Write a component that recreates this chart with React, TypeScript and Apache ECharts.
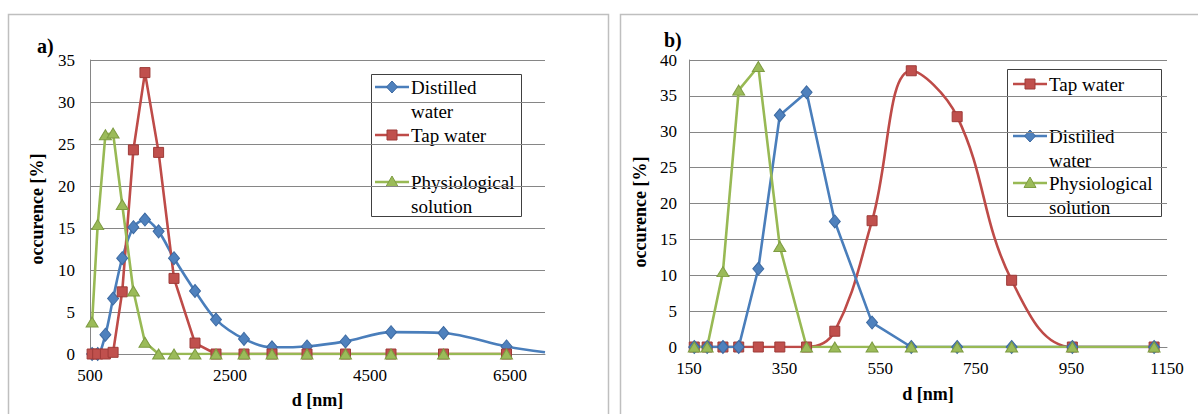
import React, { useEffect, useRef } from "react";
import * as echarts from "echarts";

const FONT = "'Liberation Serif', 'Times New Roman', Tinos, 'DejaVu Serif', serif";

// Panel a): particle diameter d (nm) and occurrence (%)
const aDiameters = [530, 610, 720, 830, 960, 1120, 1285, 1480, 1700, 2000, 2300, 2700, 3100, 3600, 4150, 4800, 5550, 6450];
const aDistilled = [0, 0, 2.3, 6.6, 11.4, 15.1, 16.0, 14.6, 11.4, 7.5, 4.1, 1.8, 0.8, 0.9, 1.5, 2.6, 2.5, 0.9];
const aDistilledEnd = [7000, 0.2];
const aTap = [0, 0, 0, 0.2, 7.4, 24.3, 33.5, 24.0, 9.0, 1.3, 0, 0, 0, 0, 0, 0, 0, 0];
const aPhysio = [3.8, 15.4, 26.1, 26.3, 17.8, 7.5, 1.4, 0, 0, 0, 0, 0, 0, 0, 0, 0, 0, 0];

// Panel b)
const bDiameters = [161, 188, 221, 254, 295, 340, 396, 455, 533, 615, 711, 825, 952, 1123];
const bTap = [0, 0, 0, 0, 0, 0, 0, 2.2, 17.6, 38.5, 32.1, 9.3, 0, 0];
const bDistilled = [0, 0, 0, 0, 10.9, 32.3, 35.5, 17.5, 3.4, 0, 0, 0, 0, 0];
const bPhysio = [0, 0, 10.5, 35.8, 39.1, 14.0, 0, 0, 0, 0, 0, 0, 0, 0];

const NAME_DISTILLED = "Distilled\nwater";
const NAME_TAP = "Tap water";
const NAME_PHYSIO = "Physiological\nsolution";

const BLUE = { line: "#4A7EBB", fill: "#4F81BD", border: "#3D6AA2" };
const RED = { line: "#BE4B48", fill: "#C0504D", border: "#9E3B38" };
const GREEN = { line: "#98B954", fill: "#9BBB59", border: "#7E9C42" };

const zip = (xs: number[], ys: number[]) => xs.map((x, i) => [x, ys[i]]);

const tickLabel = {
  color: "#000",
  fontSize: 17,
  fontFamily: FONT,
  formatter: (v: number) => String(v),
};
const gridLine = { lineStyle: { color: "#868686", width: 1 } };
const axisLine = { lineStyle: { color: "#868686", width: 1 } };
const axisName = { fontFamily: FONT, fontSize: 18, fontWeight: "bold", color: "#000" };

type Marker = "diamond" | "rect" | "triangle";

function markerSeries(
  name: string,
  data: any[],
  xAxisIndex: number,
  style: { line: string; fill: string; border: string },
  marker: Marker,
  smooth: boolean | number
) {
  const size = marker === "diamond" ? [11, 13] : marker === "triangle" ? [12, 10] : 10;
  return {
    type: "line",
    name,
    xAxisIndex,
    yAxisIndex: xAxisIndex,
    data,
    smooth,
    symbol: marker,
    symbolSize: size,
    showAllSymbol: true,
    lineStyle: { color: style.line, width: 2.6 },
    itemStyle: { color: style.fill, borderColor: style.border, borderWidth: 1 },
    emphasis: { disabled: true },
  };
}

function legendEntry(
  lineX0: number,
  y: number,
  textX: number,
  style: { line: string; fill: string; border: string },
  marker: Marker,
  label: string
) {
  const lineX1 = textX - 2;
  const cx = (lineX0 + lineX1) / 2;
  let mark: any;
  if (marker === "diamond") {
    mark = {
      type: "polygon",
      shape: { points: [[cx, y - 6], [cx + 5.5, y], [cx, y + 6], [cx - 5.5, y]] },
      style: { fill: style.fill, stroke: style.border, lineWidth: 1 },
    };
  } else if (marker === "rect") {
    mark = {
      type: "rect",
      shape: { x: cx - 5, y: y - 5, width: 10, height: 10 },
      style: { fill: style.fill, stroke: style.border, lineWidth: 1 },
    };
  } else {
    mark = {
      type: "polygon",
      shape: { points: [[cx, y - 6], [cx + 6, y + 4.5], [cx - 6, y + 4.5]] },
      style: { fill: style.fill, stroke: style.border, lineWidth: 1 },
    };
  }
  return [
    {
      type: "line",
      shape: { x1: lineX0, y1: y, x2: lineX1, y2: y },
      style: { stroke: style.line, lineWidth: 2.6 },
    },
    mark,
    {
      type: "text",
      x: textX,
      y: y - 12,
      style: {
        text: label,
        fill: "#000",
        fontFamily: FONT,
        fontSize: 19,
        lineHeight: 24,
        verticalAlign: "top",
        align: "left",
      },
    },
  ];
}

export default function App() {
  const ref = useRef<HTMLDivElement>(null);

  useEffect(() => {
    if (!ref.current) return;
    const chart = echarts.init(ref.current, undefined, { renderer: "svg" });

    const option: any = {
      animation: false,
      backgroundColor: "#fff",
      textStyle: { fontFamily: FONT },
      title: [
        {
          text: "a)",
          left: 37,
          top: 36,
          padding: 0,
          textStyle: { fontFamily: FONT, fontSize: 20, fontWeight: "bold", color: "#000" },
        },
        {
          text: "b)",
          left: 664,
          top: 30,
          padding: 0,
          textStyle: { fontFamily: FONT, fontSize: 20, fontWeight: "bold", color: "#000" },
        },
      ],
      grid: [
        { left: 90, top: 60, width: 455, height: 299 },
        { left: 689, top: 60, width: 478, height: 287 },
      ],
      xAxis: [
        {
          type: "value",
          gridIndex: 0,
          min: 500,
          max: 7000,
          interval: 2000,
          name: "d [nm]",
          nameLocation: "middle",
          nameGap: 37,
          nameTextStyle: axisName,
          axisLine: { show: true, onZero: false, ...axisLine },
          axisTick: { show: false },
          splitLine: { show: false },
          axisLabel: { ...tickLabel, margin: 13, showMaxLabel: false },
        },
        {
          type: "value",
          gridIndex: 1,
          min: 150,
          max: 1150,
          interval: 200,
          name: "d [nm]",
          nameLocation: "middle",
          nameGap: 38,
          nameTextStyle: axisName,
          axisLine: { show: true, onZero: false, ...axisLine },
          axisTick: { show: false },
          splitLine: { show: false },
          axisLabel: { ...tickLabel, margin: 13 },
        },
      ],
      yAxis: [
        {
          type: "value",
          gridIndex: 0,
          min: 0,
          max: 35,
          interval: 5,
          axisLine: { show: true, ...axisLine },
          axisTick: { show: false },
          splitLine: { show: true, ...gridLine },
          axisLabel: { ...tickLabel, margin: 15 },
        },
        {
          type: "value",
          gridIndex: 1,
          min: 0,
          max: 40,
          interval: 5,
          axisLine: { show: true, ...axisLine },
          axisTick: { show: false },
          splitLine: { show: true, ...gridLine },
          axisLabel: { ...tickLabel, margin: 12 },
        },
      ],
      series: [
        markerSeries(
          NAME_DISTILLED,
          [...zip(aDiameters, aDistilled), { value: aDistilledEnd, symbol: "none" }],
          0,
          BLUE,
          "diamond",
          0.3
        ),
        markerSeries(NAME_TAP, zip(aDiameters, aTap), 0, RED, "rect", false),
        markerSeries(NAME_PHYSIO, zip(aDiameters, aPhysio), 0, GREEN, "triangle", false),
        markerSeries(NAME_TAP + " ", zip(bDiameters, bTap), 1, RED, "rect", 0.4),
        markerSeries(NAME_DISTILLED + " ", zip(bDiameters, bDistilled), 1, BLUE, "diamond", false),
        markerSeries(NAME_PHYSIO + " ", zip(bDiameters, bPhysio), 1, GREEN, "triangle", false),
      ],
      graphic: [
        // panel frames
        {
          type: "rect",
          z: 0,
          silent: true,
          shape: { x: 8.5, y: 14.5, width: 600, height: 430 },
          style: { fill: "none", stroke: "#BFBFBF", lineWidth: 1.5 },
        },
        {
          type: "rect",
          z: 0,
          silent: true,
          shape: { x: 620.5, y: 14.5, width: 600, height: 430 },
          style: { fill: "none", stroke: "#BFBFBF", lineWidth: 1.5 },
        },
        // axis titles
        {
          type: "text",
          x: 37,
          y: 209,
          rotation: Math.PI / 2,
          style: {
            text: "occurence [%]",
            fill: "#000",
            fontFamily: FONT,
            fontSize: 18,
            fontWeight: "bold",
            align: "center",
            verticalAlign: "middle",
          },
        },
        {
          type: "text",
          x: 640,
          y: 212,
          rotation: Math.PI / 2,
          style: {
            text: "occurence [%]",
            fill: "#000",
            fontFamily: FONT,
            fontSize: 18,
            fontWeight: "bold",
            align: "center",
            verticalAlign: "middle",
          },
        },
        // legend a)
        {
          type: "group",
          z: 100,
          children: [
            {
              type: "rect",
              shape: { x: 371.5, y: 74.5, width: 150, height: 142 },
              style: { fill: "#fff", stroke: "#404040", lineWidth: 1 },
            },
            ...legendEntry(375, 87, 411, BLUE, "diamond", NAME_DISTILLED),
            ...legendEntry(375, 135, 411, RED, "rect", NAME_TAP),
            ...legendEntry(375, 182, 411, GREEN, "triangle", NAME_PHYSIO),
          ],
        },
        // legend b)
        {
          type: "group",
          z: 100,
          children: [
            {
              type: "rect",
              shape: { x: 1007.5, y: 69.5, width: 154, height: 147 },
              style: { fill: "#fff", stroke: "#404040", lineWidth: 1 },
            },
            ...legendEntry(1013, 84, 1049, RED, "rect", NAME_TAP),
            ...legendEntry(1013, 136, 1049, BLUE, "diamond", NAME_DISTILLED),
            ...legendEntry(1013, 183, 1049, GREEN, "triangle", NAME_PHYSIO),
          ],
        },
      ],
    };

    chart.setOption(option);
    return () => chart.dispose();
  }, []);

  return (
    <div
      ref={ref}
      style={{ position: "fixed", left: 0, top: 0, width: 1198, height: 414 }}
    />
  );
}
